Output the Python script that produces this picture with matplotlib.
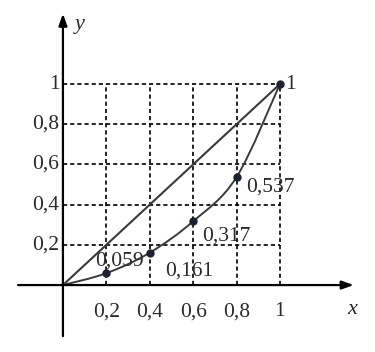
import matplotlib
matplotlib.use("Agg")
import matplotlib.pyplot as plt
from matplotlib.path import Path
from matplotlib.patches import PathPatch
import numpy as np

# Data
x_vals = [0.0, 0.2, 0.4, 0.6, 0.8, 1.0]
y_vals = [0.0, 0.059, 0.161, 0.317, 0.537, 1.0]
point_labels = ["", "0,059", "0,161", "0,317", "0,537", "1"]
x_ticks = [0.2, 0.4, 0.6, 0.8, 1.0]
x_tick_labels = ["0,2", "0,4", "0,6", "0,8", "1"]
y_ticks = [0.2, 0.4, 0.6, 0.8, 1.0]
y_tick_labels = ["0,2", "0,4", "0,6", "0,8", "1"]

plt.rcParams['font.family'] = ['Liberation Serif', 'DejaVu Serif']

fig = plt.figure(figsize=(3.75, 3.52), dpi=100)
ax = fig.add_axes([0, 0, 1, 1])
ax.set_xlim(-0.290, 1.438)
ax.set_ylim(-0.333, 1.418)
ax.axis('off')

TXT = '#2a2a2a'
FS = 15.5

# dashed grid
for xt in x_ticks:
    ax.plot([xt, xt], [0, 1], linestyle=(0, (2.5, 1.8)), color='black', lw=1.2, zorder=1)
for yt in y_ticks:
    ax.plot([0, 1], [yt, yt], linestyle=(0, (2.5, 1.8)), color='black', lw=1.2, zorder=1)

# axes with arrows
ax.annotate("", xy=(1.34, 0), xytext=(-0.207, 0),
            arrowprops=dict(arrowstyle="-|>,head_length=0.7,head_width=0.25", color='black', lw=1.6,
                            shrinkA=0, shrinkB=0), zorder=3)
ax.annotate("", xy=(0, 1.35), xytext=(0, -0.254),
            arrowprops=dict(arrowstyle="-|>,head_length=0.7,head_width=0.25", color='black', lw=1.6,
                            shrinkA=0, shrinkB=0), zorder=3)

# diagonal
ax.plot([x_vals[0], x_vals[-1]], [y_vals[0], y_vals[-1]], color='#3a3a3a', lw=1.5, zorder=2)

# smooth curve through points (Catmull-Rom as Bezier segments)
P = np.column_stack([x_vals, y_vals])
verts = [tuple(P[0])]
codes = [Path.MOVETO]
n = len(P)
for i in range(n - 1):
    p0 = P[i - 1] if i > 0 else P[i]
    p1 = P[i]
    p2 = P[i + 1]
    p3 = P[i + 2] if i + 2 < n else P[i + 1]
    c1 = p1 + (p2 - p0) / 6.0
    c2 = p2 - (p3 - p1) / 6.0
    verts += [tuple(c1), tuple(c2), tuple(p2)]
    codes += [Path.CURVE4] * 3
ax.add_patch(PathPatch(Path(verts, codes), facecolor='none', edgecolor='#3a3a3a', lw=1.4, zorder=2))

# markers
ax.plot(x_vals[1:], y_vals[1:], 'o', color='#1c2233', ms=5, zorder=4)

# point labels
label_pos = {1: (0.147, 0.119), 2: (0.47, 0.07), 3: (0.64, 0.244), 4: (0.843, 0.488), 5: (1.023, 1.0)}
for i, (lx, ly) in label_pos.items():
    ax.text(lx, ly, point_labels[i], fontsize=FS, ha='left', va='center', color=TXT, zorder=5)

# tick labels
for xt, lab in zip(x_ticks, x_tick_labels):
    ax.text(xt, -0.134, lab, fontsize=FS, ha='center', va='center', color=TXT)
for yt, lab in zip(y_ticks, y_tick_labels):
    ax.text(-0.016, yt, lab, fontsize=FS, ha='right', va='center', color=TXT)

# axis names
ax.text(0.078, 1.294, "y", fontsize=16, style='italic', ha='center', va='center', color=TXT)
ax.text(1.332, -0.124, "x", fontsize=16, style='italic', ha='center', va='center', color=TXT)

fig.savefig("out.png", dpi=100)
